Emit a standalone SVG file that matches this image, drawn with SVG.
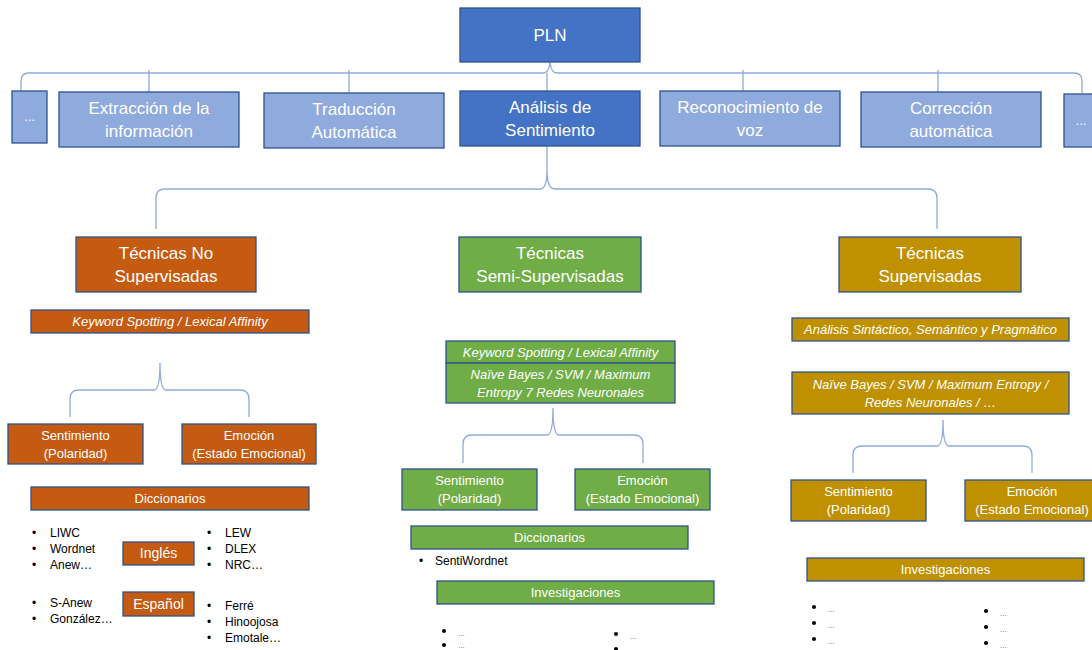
<svg xmlns="http://www.w3.org/2000/svg" width="1092" height="650" viewBox="0 0 1092 650">
  <style>
    .box { stroke: #2F528F; stroke-width: 1.3; }
    .dark { fill: #4472C4; }
    .light { fill: #8FAADC; }
    .orange { fill: #C55A11; }
    .green { fill: #70AD47; }
    .gold { fill: #BF9000; }
    .t { font-family: "Liberation Sans", Arial, sans-serif; fill: #FFFFFF; text-anchor: middle; }
    .big { font-size: 17px; }
    .mid { font-size: 13px; }
    .it { font-size: 13px; font-style: italic; }
    .lst { font-family: "Liberation Sans", Arial, sans-serif; font-size: 12px; fill: #000000; }
    .ell { font-family: "Liberation Sans", Arial, sans-serif; font-size: 8px; fill: #666666; }
    .conn path { fill: none; stroke: #8FAADC; stroke-width: 1.3; }
  </style>

  <!-- connectors -->
  <g id="connectors" class="conn">
    <!-- PLN brace -->
    <path d="M21,91 L21,81 Q21,73 29,73 L543,73 Q549,73 550,62 Q551,73 557,73 L1074,73 Q1082,73 1082,81 L1082,93"/>
    <path d="M149,70 L149,92"/>
    <path d="M349,70 L349,93"/>
    <path d="M547,73 L547,91"/>
    <path d="M743,70 L743,91"/>
    <path d="M938,70 L938,92"/>
    <!-- Análisis de Sentimiento brace -->
    <path d="M547,146 L547,170"/>
    <path d="M156,229 L156,198 Q156,189 165,189 L540,189 Q547,189 547,170 Q547,189 555,189 L928,189 Q937,189 937,198 L937,229"/>
    <!-- No supervisadas brace -->
    <path d="M70,417 L70,399 Q70,390 79,390 L154,390 Q160,390 160,363 Q160,390 166,390 L240,390 Q249,390 249,399 L249,417"/>
    <!-- Semi-supervisadas brace -->
    <path d="M463,463 L463,444 Q463,435 472,435 L547,435 Q553,435 553,408 Q553,435 559,435 L634,435 Q643,435 643,444 L643,463"/>
    <!-- Supervisadas brace -->
    <path d="M853,473 L853,455 Q853,446 862,446 L937,446 Q943,446 943,420 Q943,446 949,446 L1023,446 Q1032,446 1032,455 L1032,473"/>
  </g>

  <!-- root -->
  <g id="pln">
    <rect class="box dark" x="460" y="8" width="180" height="54"/>
    <text class="t big" x="550" y="41">PLN</text>
  </g>

  <!-- second level -->
  <g id="more-left">
    <rect class="box light" x="12" y="91" width="35" height="52"/>
    <text class="t mid" x="29.5" y="121">...</text>
  </g>
  <g id="extraccion">
    <rect class="box light" x="59" y="92" width="180" height="55"/>
    <text class="t big" x="149" y="114">Extracción de la</text>
    <text class="t big" x="149" y="137">información</text>
  </g>
  <g id="traduccion">
    <rect class="box light" x="264" y="93" width="180" height="55"/>
    <text class="t big" x="354" y="115">Traducción</text>
    <text class="t big" x="354" y="138">Automática</text>
  </g>
  <g id="analisis">
    <rect class="box dark" x="460" y="91" width="180" height="55"/>
    <text class="t big" x="550" y="113">Análisis de</text>
    <text class="t big" x="550" y="136">Sentimiento</text>
  </g>
  <g id="reconocimiento">
    <rect class="box light" x="660" y="91" width="180" height="55"/>
    <text class="t big" x="750" y="113">Reconocimiento de</text>
    <text class="t big" x="750" y="136">voz</text>
  </g>
  <g id="correccion">
    <rect class="box light" x="861" y="92" width="180" height="55"/>
    <text class="t big" x="951" y="114">Corrección</text>
    <text class="t big" x="951" y="137">automática</text>
  </g>
  <g id="more-right">
    <rect class="box light" x="1064" y="94" width="35" height="53"/>
    <text class="t mid" x="1081" y="125">...</text>
  </g>

  <!-- Técnicas No Supervisadas -->
  <g id="no-supervisadas">
    <rect class="box orange" x="76" y="237" width="180" height="55"/>
    <text class="t big" x="166" y="259">Técnicas No</text>
    <text class="t big" x="166" y="282">Supervisadas</text>
  </g>
  <g id="ns-keyword">
    <rect class="box orange" x="31" y="310" width="278" height="23"/>
    <text class="t it" x="170" y="326">Keyword Spotting / Lexical Affinity</text>
  </g>
  <g id="ns-sentimiento">
    <rect class="box orange" x="8" y="424" width="135" height="40"/>
    <text class="t mid" x="75.5" y="440">Sentimiento</text>
    <text class="t mid" x="75.5" y="458">(Polaridad)</text>
  </g>
  <g id="ns-emocion">
    <rect class="box orange" x="182" y="424" width="134" height="40"/>
    <text class="t mid" x="249" y="440">Emoción</text>
    <text class="t mid" x="249" y="458">(Estado Emocional)</text>
  </g>
  <g id="ns-diccionarios">
    <rect class="box orange" x="31" y="487" width="278" height="23"/>
    <text class="t mid" x="170" y="503">Diccionarios</text>
  </g>
  <g id="ns-ingles">
    <rect class="box orange" x="123" y="542" width="71" height="23"/>
    <text class="t" font-size="14" x="158.5" y="558">Inglés</text>
  </g>
  <g id="ns-espanol">
    <rect class="box orange" x="123" y="592" width="71" height="24"/>
    <text class="t" font-size="14" x="158.5" y="609">Español</text>
  </g>
  <g id="ns-listas">
    <text class="lst" x="32" y="537">•</text><text class="lst" x="50" y="537">LIWC</text>
    <text class="lst" x="32" y="553">•</text><text class="lst" x="50" y="553">Wordnet</text>
    <text class="lst" x="32" y="569">•</text><text class="lst" x="50" y="569">Anew…</text>
    <text class="lst" x="207" y="537">•</text><text class="lst" x="225" y="537">LEW</text>
    <text class="lst" x="207" y="553">•</text><text class="lst" x="225" y="553">DLEX</text>
    <text class="lst" x="207" y="569">•</text><text class="lst" x="225" y="569">NRC…</text>
    <text class="lst" x="32" y="607">•</text><text class="lst" x="50" y="607">S-Anew</text>
    <text class="lst" x="32" y="623">•</text><text class="lst" x="50" y="623">González…</text>
    <text class="lst" x="207" y="610">•</text><text class="lst" x="225" y="610">Ferré</text>
    <text class="lst" x="207" y="626">•</text><text class="lst" x="225" y="626">Hinoojosa</text>
    <text class="lst" x="207" y="642">•</text><text class="lst" x="225" y="642">Emotale…</text>
  </g>

  <!-- Técnicas Semi-Supervisadas -->
  <g id="semi-supervisadas">
    <rect class="box green" x="459" y="237" width="182" height="55"/>
    <text class="t big" x="550" y="259">Técnicas</text>
    <text class="t big" x="550" y="282">Semi-Supervisadas</text>
  </g>
  <g id="ss-metodos">
    <rect class="box green" x="446" y="341" width="229" height="22"/>
    <text class="t it" x="560.5" y="356.5">Keyword Spotting / Lexical Affinity</text>
    <rect class="box green" x="446" y="363" width="229" height="40"/>
    <text class="t it" x="560.5" y="378.5">Naïve Bayes / SVM / Maximum</text>
    <text class="t it" x="560.5" y="396.5">Entropy 7 Redes Neuronales</text>
  </g>
  <g id="ss-sentimiento">
    <rect class="box green" x="402" y="469" width="135" height="41"/>
    <text class="t mid" x="469.5" y="485">Sentimiento</text>
    <text class="t mid" x="469.5" y="503">(Polaridad)</text>
  </g>
  <g id="ss-emocion">
    <rect class="box green" x="575" y="469" width="135" height="41"/>
    <text class="t mid" x="642.5" y="485">Emoción</text>
    <text class="t mid" x="642.5" y="503">(Estado Emocional)</text>
  </g>
  <g id="ss-diccionarios">
    <rect class="box green" x="411" y="526" width="277" height="23"/>
    <text class="t mid" x="549.5" y="542">Diccionarios</text>
  </g>
  <g id="ss-lista">
    <text class="lst" x="419" y="565">•</text><text class="lst" x="435" y="565">SentiWordnet</text>
  </g>
  <g id="ss-investigaciones">
    <rect class="box green" x="437" y="581" width="277" height="23"/>
    <text class="t mid" x="575.5" y="597">Investigaciones</text>
  </g>
  <g id="ss-inv-lista">
    <circle cx="444" cy="631" r="2"/><text class="ell" x="458" y="636">...</text>
    <circle cx="444" cy="645" r="2"/><text class="ell" x="458" y="648">...</text>
    <circle cx="616" cy="634" r="2"/><text class="ell" x="630" y="639">...</text>
    <circle cx="616" cy="649" r="2"/>
  </g>

  <!-- Técnicas Supervisadas -->
  <g id="supervisadas">
    <rect class="box gold" x="839" y="237" width="182" height="55"/>
    <text class="t big" x="930" y="259">Técnicas</text>
    <text class="t big" x="930" y="282">Supervisadas</text>
  </g>
  <g id="s-analisis">
    <rect class="box gold" x="792" y="318" width="277" height="23"/>
    <text class="t it" x="930.5" y="334">Análisis Sintáctico, Semántico y Pragmático</text>
  </g>
  <g id="s-metodos">
    <rect class="box gold" x="792" y="372" width="277" height="42"/>
    <text class="t it" x="930.5" y="388.5">Naïve Bayes / SVM / Maximum Entropy /</text>
    <text class="t it" x="930.5" y="406.5">Redes Neuronales / …</text>
  </g>
  <g id="s-sentimiento">
    <rect class="box gold" x="791" y="480" width="135" height="41"/>
    <text class="t mid" x="858.5" y="496">Sentimiento</text>
    <text class="t mid" x="858.5" y="514">(Polaridad)</text>
  </g>
  <g id="s-emocion">
    <rect class="box gold" x="965" y="480" width="135" height="41"/>
    <text class="t mid" x="1032" y="496">Emoción</text>
    <text class="t mid" x="1032" y="514">(Estado Emocional)</text>
  </g>
  <g id="s-investigaciones">
    <rect class="box gold" x="807" y="558" width="277" height="23"/>
    <text class="t mid" x="945.5" y="574">Investigaciones</text>
  </g>
  <g id="s-inv-lista">
    <circle cx="814" cy="607" r="2"/><text class="ell" x="828" y="612">...</text>
    <circle cx="814" cy="623" r="2"/><text class="ell" x="828" y="628">...</text>
    <circle cx="814" cy="639" r="2"/><text class="ell" x="828" y="644">...</text>
    <circle cx="986" cy="611" r="2"/><text class="ell" x="1000" y="616">...</text>
    <circle cx="986" cy="627" r="2"/><text class="ell" x="1000" y="632">...</text>
    <circle cx="986" cy="643" r="2"/><text class="ell" x="1000" y="648">...</text>
  </g>
</svg>
